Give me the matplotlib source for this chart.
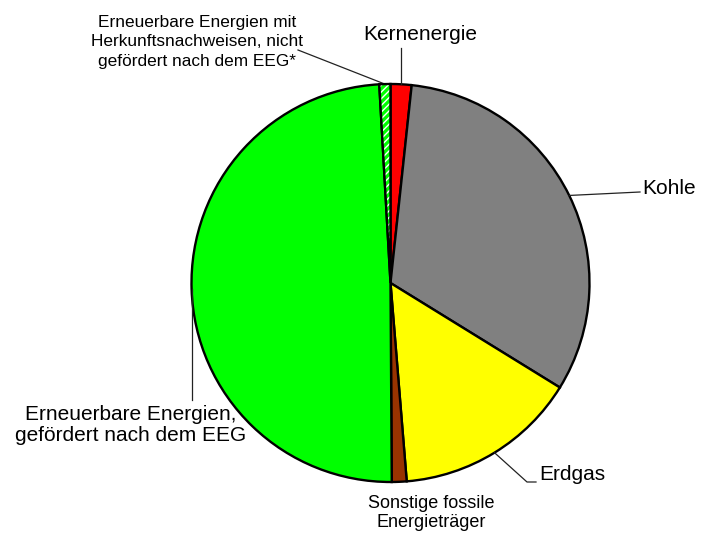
import numpy as np
import matplotlib
matplotlib.use("Agg")
import matplotlib.pyplot as plt
import matplotlib.patches as mpatches

plt.rcParams['font.family'] = ['Liberation Sans', 'DejaVu Sans']

# data (share of electricity mix, percent)
labels = ['Kernenergie', 'Kohle', 'Erdgas', 'Sonstige fossile\nEnergieträger',
          'Erneuerbare Energien,\ngefördert nach dem EEG',
          'Erneuerbare Energien mit\nHerkunftsnachweisen, nicht\ngefördert nach dem EEG*']
values = [1.7, 32.1, 14.9, 1.2, 49.2, 0.9]
colors = ['#ff0000', '#808080', '#ffff00', '#993300', '#00ff00', '#00ff00']

W, H = 702, 533
fig = plt.figure(figsize=(W / 100, H / 100), dpi=100)
ax = fig.add_axes([0, 0, 1, 1])

cx, cy, r = 390.5, H - 283, 199

wedges, _ = ax.pie(values, colors=colors, startangle=90, counterclock=False,
                   center=(cx, cy), radius=r, frame=True,
                   wedgeprops=dict(edgecolor='black', linewidth=1.7))
ax.set_xlim(0, W)
ax.set_ylim(0, H)
ax.set_aspect('equal')
ax.axis('off')

# hatched slice: white stripes on green
hw = wedges[5]
hw.set_edgecolor('white')
hw.set_hatch('/////')
hw.set_linewidth(0)
ax.add_patch(mpatches.Wedge((cx, cy), r, hw.theta1, hw.theta2, fill=False,
                            edgecolor='black', linewidth=1.7, zorder=3))


def anchor(w):
    a = np.deg2rad((w.theta1 + w.theta2) / 2)
    return cx + r * np.cos(a), cy + r * np.sin(a)


def py(y):
    return H - y


lc = '#222222'
lw = 0.9

# Kernenergie
x0, y0 = anchor(wedges[0])
ax.plot([x0, x0], [y0, py(48)], color=lc, lw=lw)
ax.text(420, py(35), labels[0], fontsize=15, ha='center', va='center')

# Kohle
x0, y0 = anchor(wedges[1])
ax.plot([x0, 640], [y0, py(192)], color=lc, lw=lw)
ax.text(642, py(188), labels[1], fontsize=15, ha='left', va='center')

# Erdgas
x0, y0 = anchor(wedges[2])
ax.plot([x0, 527, 536], [y0, py(482), py(482)], color=lc, lw=lw)
ax.text(539, py(474), labels[2], fontsize=15, ha='left', va='center')

# Sonstige fossile
ax.text(431, py(513), labels[3], fontsize=13, ha='center', va='center',
        linespacing=1.1)

# EEG
x0, y0 = anchor(wedges[4])
ax.plot([x0, x0], [y0, py(400)], color=lc, lw=lw)
ax.text(131, py(425), labels[4], fontsize=15, ha='center', va='center',
        linespacing=1.1)

# Herkunftsnachweise
x0, y0 = anchor(wedges[5])
ax.plot([x0, 298], [y0, py(50)], color=lc, lw=lw)
ax.text(197, py(42), labels[5], fontsize=12.4, ha='center', va='center',
        linespacing=1.4)

fig.savefig('out.png', dpi=100)
